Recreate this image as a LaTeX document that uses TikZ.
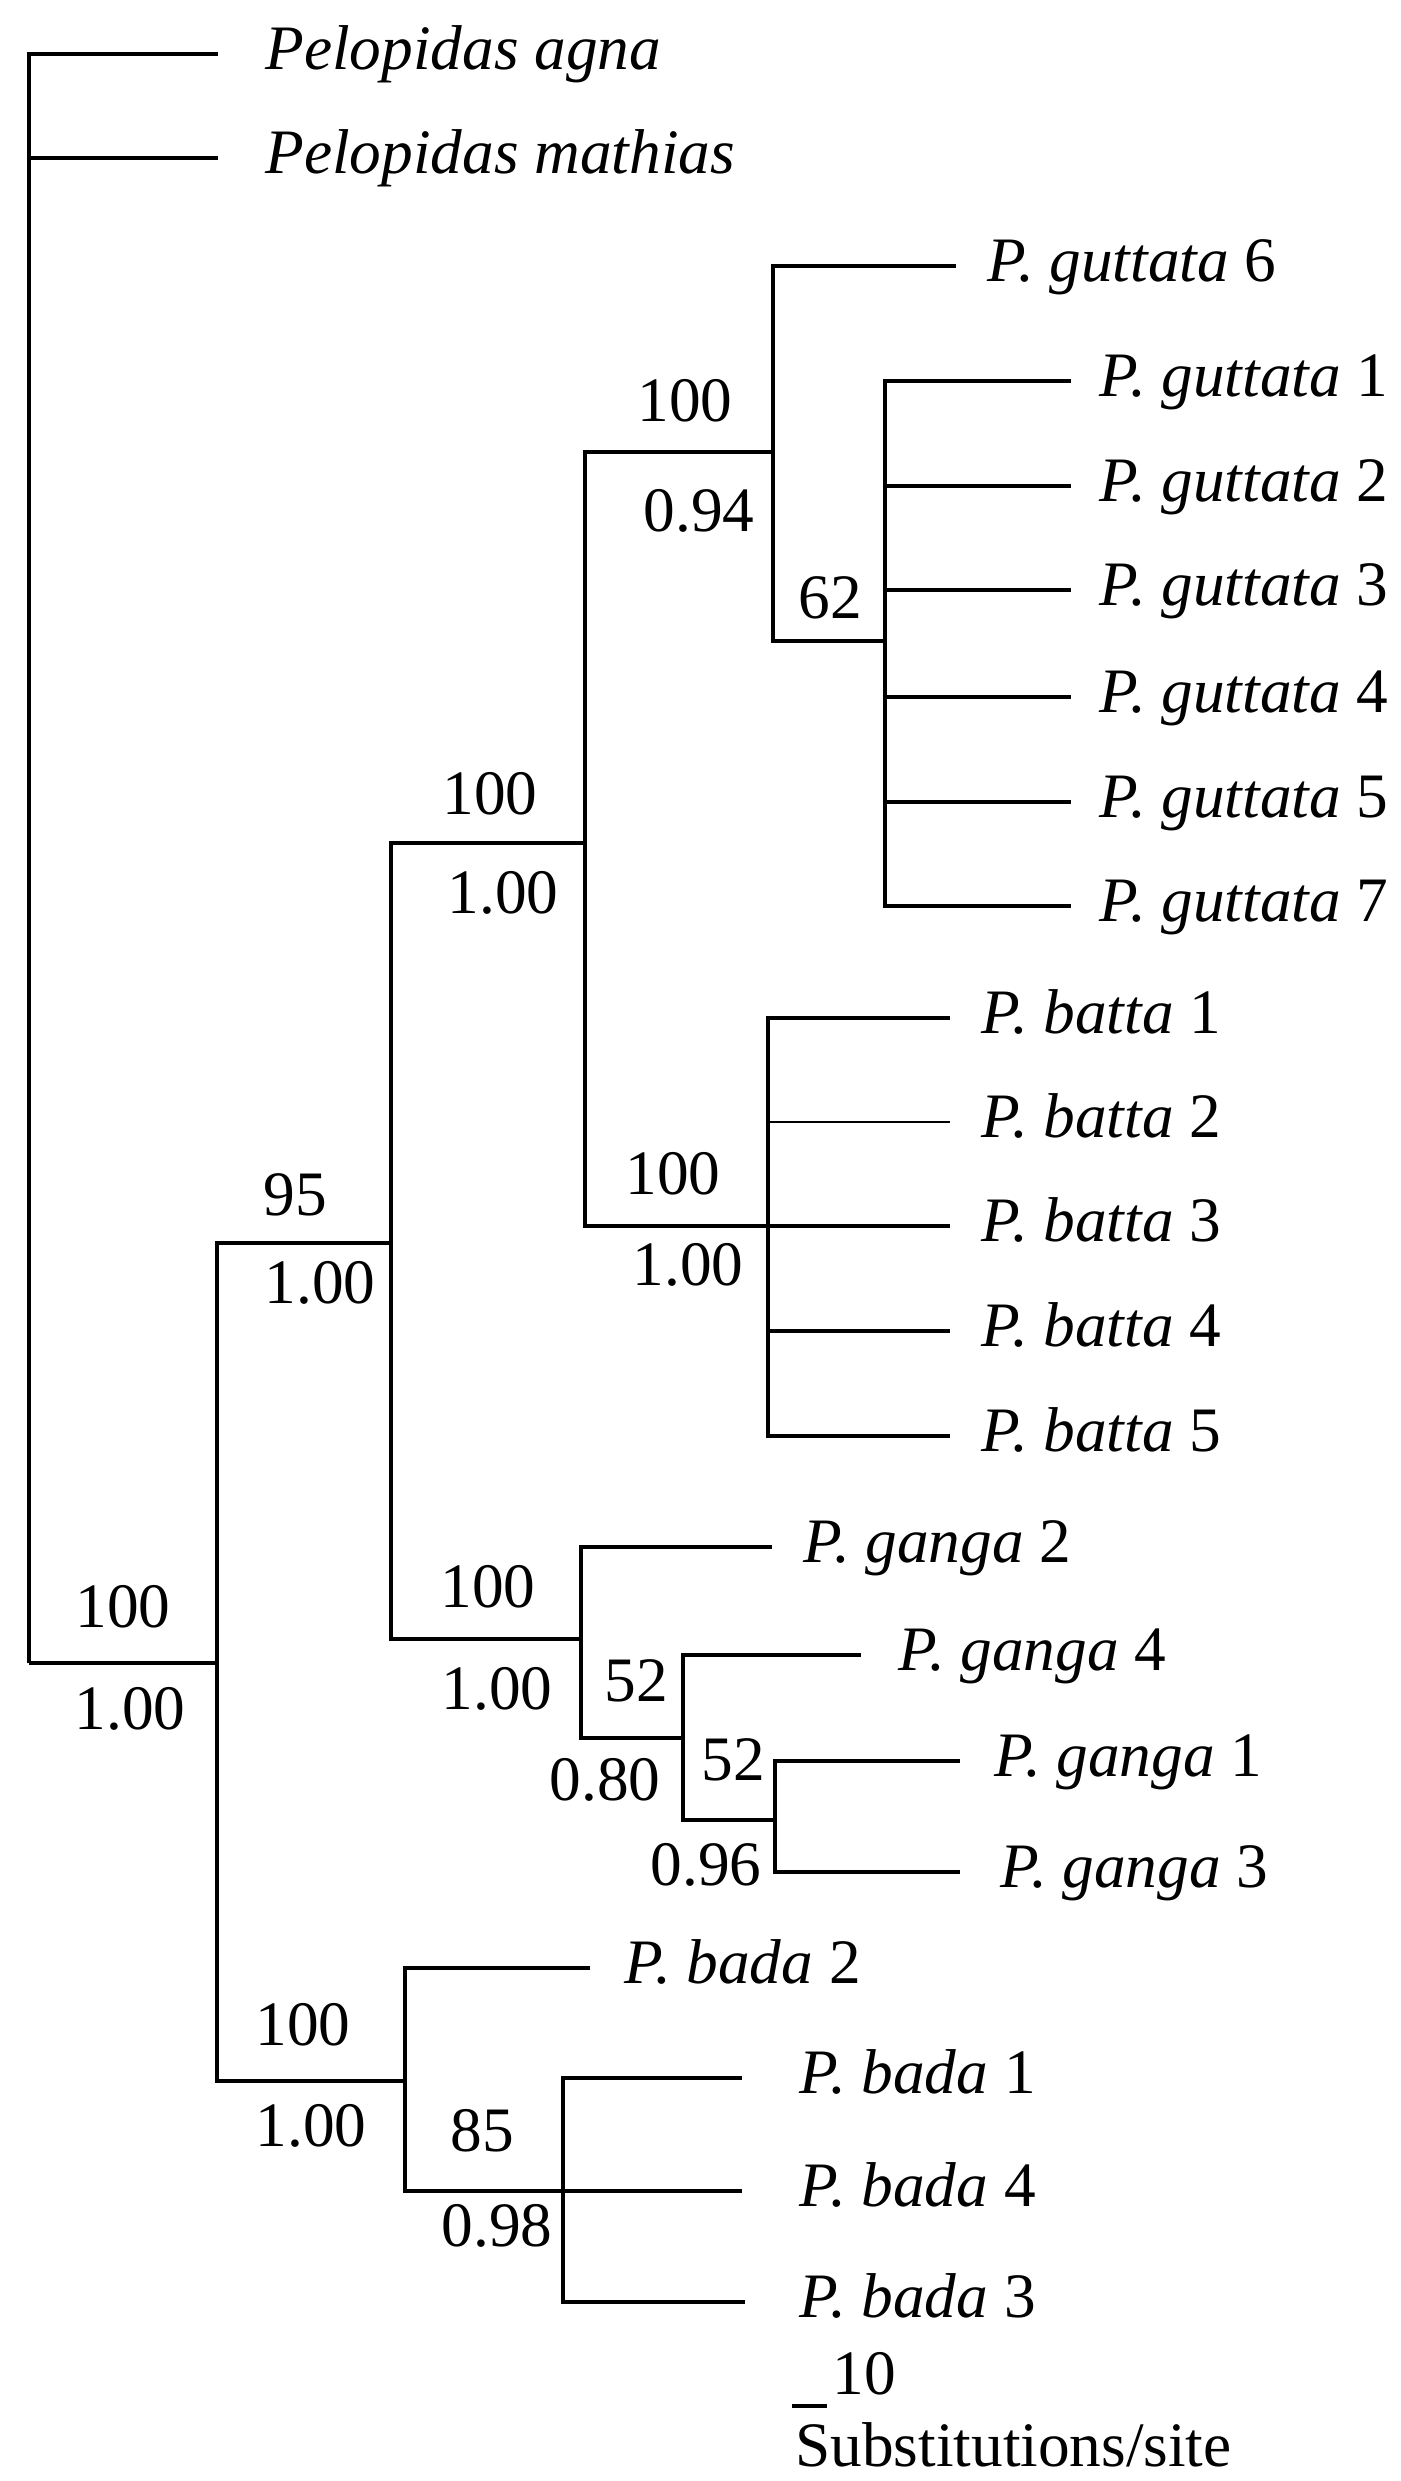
\documentclass[tikz,border=0pt]{standalone}
\usepackage{fontspec}
\setmainfont{Liberation Serif}
\usetikzlibrary{positioning}

\newcommand{\sname}[2]{\textit{#1} #2}

\begin{document}
\begin{tikzpicture}[x=0.01cm,y=-0.01cm,line width=1.4pt,
  elbow/.style={to path={|- (\tikztotarget)}},
  taxon/.style={anchor=base west,inner sep=0pt,yshift=-0.15cm,font=\fontsize{18}{20}\selectfont},
  support/.style={inner sep=0pt,font=\fontsize{18}{20}\selectfont}]

  \useasboundingbox (0,0) rectangle (1401,2481);

  % internal nodes
  \coordinate (root) at (29,1663);
  \coordinate (in) at (217,1663);
  \coordinate (n95) at (391,1243);
  \coordinate (k) at (585,843);
  \coordinate (gut) at (773,452);
  \coordinate (g62) at (885,641);
  \coordinate (bat) at (768,1226);
  \coordinate (gan) at (581,1639);
  \coordinate (g52a) at (683,1738);
  \coordinate (g52b) at (775,1820);
  \coordinate (bad) at (405,2081);
  \coordinate (b85) at (563,2191);

  % branch tips
  \coordinate (tagna) at (218,54);
  \coordinate (tmath) at (218,158);
  \coordinate (tgut6) at (956,266);
  \coordinate (tgut1) at (1071,381);
  \coordinate (tgut2) at (1071,486);
  \coordinate (tgut3) at (1071,590);
  \coordinate (tgut4) at (1071,697);
  \coordinate (tgut5) at (1071,802);
  \coordinate (tgut7) at (1071,906);
  \coordinate (tbat1) at (950,1018);
  \coordinate (tbat2) at (950,1122);
  \coordinate (tbat3) at (950,1226);
  \coordinate (tbat4) at (950,1331);
  \coordinate (tbat5) at (950,1436);
  \coordinate (tgan2) at (772,1547);
  \coordinate (tgan4) at (861,1655);
  \coordinate (tgan1) at (960,1761);
  \coordinate (tgan3) at (960,1872);
  \coordinate (tbad2) at (590,1968);
  \coordinate (tbad1) at (742,2078);
  \coordinate (tbad4) at (742,2191);
  \coordinate (tbad3) at (745,2302);

  % taxa
  \node[taxon] (agna) at (263,54) {\textit{Pelopidas agna}};
  \node[taxon] (math) at (263,158) {\textit{Pelopidas mathias}};
  \node[taxon] (gut6) at (985,266) {\sname{P. guttata}{6}};
  \node[taxon] (gut1) at (1097,381) {\sname{P. guttata}{1}};
  \node[taxon] (gut2) at (1097,486) {\sname{P. guttata}{2}};
  \node[taxon] (gut3) at (1097,590) {\sname{P. guttata}{3}};
  \node[taxon] (gut4) at (1097,697) {\sname{P. guttata}{4}};
  \node[taxon] (gut5) at (1097,802) {\sname{P. guttata}{5}};
  \node[taxon] (gut7) at (1097,906) {\sname{P. guttata}{7}};
  \node[taxon] (bat1) at (979,1018) {\sname{P. batta}{1}};
  \node[taxon] (bat2) at (979,1122) {\sname{P. batta}{2}};
  \node[taxon] (bat3) at (979,1226) {\sname{P. batta}{3}};
  \node[taxon] (bat4) at (979,1331) {\sname{P. batta}{4}};
  \node[taxon] (bat5) at (979,1436) {\sname{P. batta}{5}};
  \node[taxon] (gan2) at (801,1547) {\sname{P. ganga}{2}};
  \node[taxon] (gan4) at (896,1655) {\sname{P. ganga}{4}};
  \node[taxon] (gan1) at (992,1761) {\sname{P. ganga}{1}};
  \node[taxon] (gan3) at (998,1872) {\sname{P. ganga}{3}};
  \node[taxon] (bad2) at (622,1968) {\sname{P. bada}{2}};
  \node[taxon] (bad1) at (797,2078) {\sname{P. bada}{1}};
  \node[taxon] (bad4) at (797,2191) {\sname{P. bada}{4}};
  \node[taxon] (bad3) at (797,2302) {\sname{P. bada}{3}};

  % branches
  \path[draw]
    (root) edge[elbow] (tagna)
    (root) edge[elbow] (tmath)
    (root) edge (in)
    (in) edge[elbow] (n95)
    (in) edge[elbow] (bad)
    (n95) edge[elbow] (k)
    (n95) edge[elbow] (gan)
    (k) edge[elbow] (gut)
    (k) edge[elbow] (bat)
    (gut) edge[elbow] (tgut6)
    (gut) edge[elbow] (g62)
    (g62) edge[elbow] (tgut1)
    (g62) edge[elbow] (tgut2)
    (g62) edge[elbow] (tgut3)
    (g62) edge[elbow] (tgut4)
    (g62) edge[elbow] (tgut5)
    (g62) edge[elbow] (tgut7)
    (bat) edge[elbow] (tbat1)
    (bat) edge[elbow,line width=0.6pt] (tbat2)
    (bat) edge (tbat3)
    (bat) edge[elbow] (tbat4)
    (bat) edge[elbow] (tbat5)
    (gan) edge[elbow] (tgan2)
    (gan) edge[elbow] (g52a)
    (g52a) edge[elbow] (tgan4)
    (g52a) edge[elbow] (g52b)
    (g52b) edge[elbow] (tgan1)
    (g52b) edge[elbow] (tgan3)
    (bad) edge[elbow] (tbad2)
    (bad) edge[elbow] (b85)
    (b85) edge[elbow] (tbad1)
    (b85) edge (tbad4)
    (b85) edge[elbow] (tbad3);

  % support values
  \node[support] (s0a) at (123,1607) {100};
  \node[support] (s0b) at (130,1709) {1.00};
  \node[support] (s1a) at (295,1195) {95};
  \node[support] (s1b) at (320,1283) {1.00};
  \node[support] (s2a) at (490,794) {100};
  \node[support] (s2b) at (503,893) {1.00};
  \node[support] (s3a) at (685,401) {100};
  \node[support] (s3b) at (699,511) {0.94};
  \node[support] (s4a) at (830,598) {62};
  \node[support] (s5a) at (673,1174) {100};
  \node[support] (s5b) at (688,1265) {1.00};
  \node[support] (s6a) at (488,1587) {100};
  \node[support] (s6b) at (497,1689) {1.00};
  \node[support] (s7a) at (636,1681) {52};
  \node[support] (s7b) at (605,1780) {0.80};
  \node[support] (s8a) at (733,1760) {52};
  \node[support] (s8b) at (706,1865) {0.96};
  \node[support] (s9a) at (303,2025) {100};
  \node[support] (s9b) at (311,2126) {1.00};
  \node[support] (s10a) at (482,2131) {85};
  \node[support] (s10b) at (497,2226) {0.98};

  % scale bar
  \coordinate (bar0) at (792,2406);
  \coordinate (bar1) at (827,2406);
  \draw[line width=1.1pt] (bar0) -- (bar1);
  \node[anchor=base west,inner sep=0pt,font=\fontsize{18}{20}\selectfont] (barlab) at (830,2394) {10};
  \node[anchor=base west,inner sep=0pt,font=\fontsize{18}{20}\selectfont] (unit) at (793,2466) {Substitutions/site};
\end{tikzpicture}
\end{document}
